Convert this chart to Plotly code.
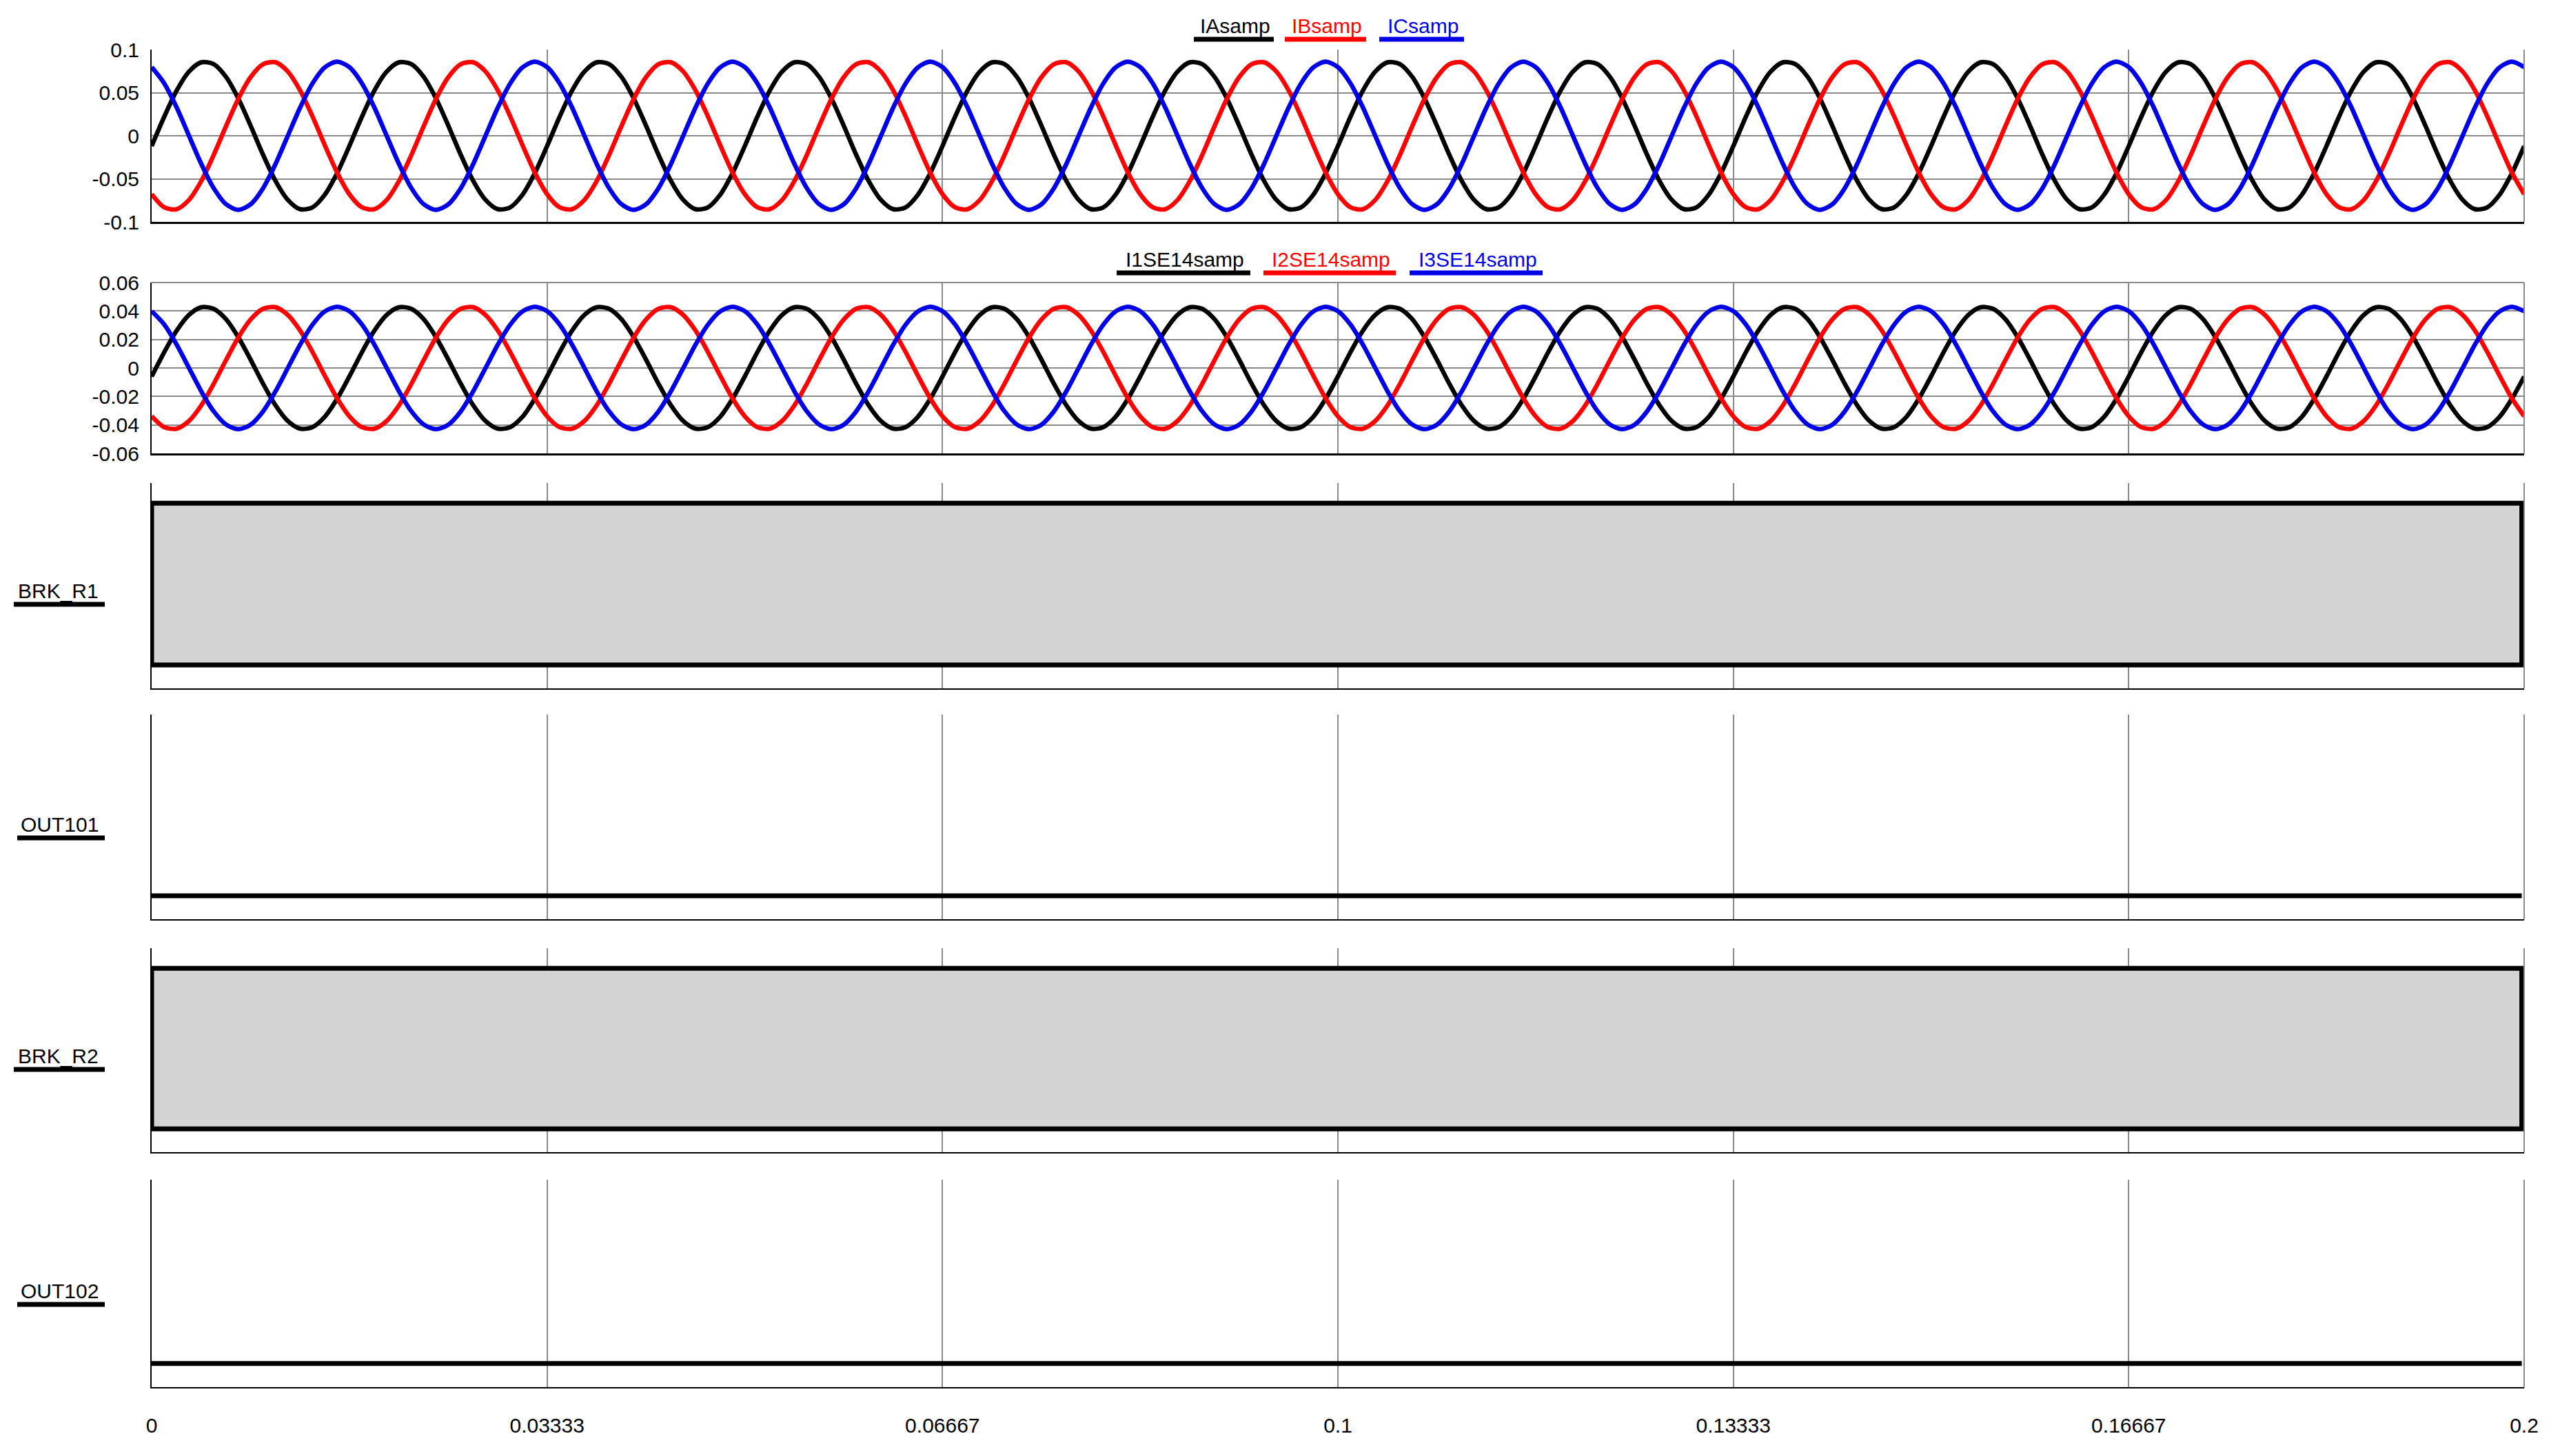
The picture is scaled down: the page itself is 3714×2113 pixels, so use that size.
import plotly.graph_objects as go

W, H = 3714, 2113

# --- data -------------------------------------------------------------------
# sampled at 16 samples/cycle (60 Hz); the record is steady state, every
# cycle reads the same, so one cycle per channel is listed (t = 0 .. 15/960 s)
SAMPLE_DT = 1 / 960
N_CYCLES = 12

ia_cycle = [-0.0120, 0.0215, 0.0518, 0.0741, 0.0852, 0.0833, 0.0687, 0.0437,
            0.0120, -0.0215, -0.0518, -0.0741, -0.0852, -0.0833, -0.0687, -0.0437]
ib_cycle = [-0.0678, -0.0829, -0.0854, -0.0749, -0.0530, -0.0230, 0.0105, 0.0424,
            0.0678, 0.0829, 0.0854, 0.0749, 0.0530, 0.0230, -0.0105, -0.0424]
ic_cycle = [0.0797, 0.0613, 0.0336, 0.0007, -0.0322, -0.0603, -0.0792, -0.0860,
            -0.0797, -0.0613, -0.0336, -0.0007, 0.0322, 0.0603, 0.0792, 0.0860]

i1_cycle = [-0.0060, 0.0108, 0.0259, 0.0371, 0.0426, 0.0416, 0.0344, 0.0218,
            0.0060, -0.0108, -0.0259, -0.0371, -0.0426, -0.0416, -0.0344, -0.0218]
i2_cycle = [-0.0339, -0.0415, -0.0427, -0.0374, -0.0265, -0.0115, 0.0052, 0.0212,
            0.0339, 0.0415, 0.0427, 0.0374, 0.0265, 0.0115, -0.0052, -0.0212]
i3_cycle = [0.0399, 0.0307, 0.0168, 0.0004, -0.0161, -0.0302, -0.0396, -0.0430,
            -0.0399, -0.0307, -0.0168, -0.0004, 0.0161, 0.0302, 0.0396, 0.0430]

# digital channels: change times and states
brk_r1_t = [0.0, 0.1998]
brk_r1_v = [1, 1]
out101_t = [0.0, 0.1998]
out101_v = [0, 0]
brk_r2_t = [0.0, 0.1998]
brk_r2_v = [1, 1]
out102_t = [0.0, 0.1998]
out102_v = [0, 0]

x_tickvals = [0, 0.0333333, 0.0666667, 0.1, 0.1333333, 0.1666667, 0.2]
x_ticktext = ["0", "0.03333", "0.06667", "0.1", "0.13333", "0.16667", "0.2"]

y1_tickvals = [0.1, 0.05, 0, -0.05, -0.1]
y1_ticktext = ["0.1", "0.05", "0", "-0.05", "-0.1"]
y2_tickvals = [0.06, 0.04, 0.02, 0, -0.02, -0.04, -0.06]
y2_ticktext = ["0.06", "0.04", "0.02", "0", "-0.02", "-0.04", "-0.06"]

legend1 = ["IAsamp", "IBsamp", "ICsamp"]
legend2 = ["I1SE14samp", "I2SE14samp", "I3SE14samp"]
digital_names = ["BRK_R1", "OUT101", "BRK_R2", "OUT102"]

# --- helpers ----------------------------------------------------------------
BLACK, RED, BLUE = "#000000", "#ff0000", "#0000e6"
GRID = "#8a8a8a"
FONT = "Liberation Sans, Arial, sans-serif"


def px_x(p):
    return p / W


def px_y(p):
    return 1 - p / H


def sfx(n):
    return "" if n == 1 else str(n)


def full_record(cycle):
    y = cycle * N_CYCLES + [cycle[0]]
    t = [k * SAMPLE_DT for k in range(len(y))]
    return t, y


def digital_path(t, v):
    # outline of the state box: up from zero, across, back down and closed
    return [t[0]] + t + [t[-1], t[0]], [0] + v + [0, 0]


X0, X1 = px_x(220), px_x(3662)
panel_top = [72, 410, 701, 1037, 1376, 1712]
panel_bot = [322, 658, 999, 1334, 1672, 2013]

fig = go.Figure()

wave_sets = [
    (1, [ia_cycle, ib_cycle, ic_cycle], legend1),
    (2, [i1_cycle, i2_cycle, i3_cycle], legend2),
]
for n, cycles, names in wave_sets:
    for cyc, color, name in zip(cycles, [BLACK, RED, BLUE], names):
        t, y = full_record(cyc)
        fig.add_trace(go.Scatter(
            x=t, y=y, mode="lines", name=name,
            line=dict(color=color, width=6.5, shape="spline", smoothing=0.8),
            xaxis="x" + sfx(n), yaxis="y" + sfx(n),
        ))

digital = [(brk_r1_t, brk_r1_v), (out101_t, out101_v),
           (brk_r2_t, brk_r2_v), (out102_t, out102_v)]
for k, ((t, v), name) in enumerate(zip(digital, digital_names)):
    n = k + 3
    xs, ys = digital_path(t, v)
    fig.add_trace(go.Scatter(
        x=xs, y=ys, mode="lines", name=name, line_shape="hv",
        fill="toself", fillcolor="#d3d3d3",
        line=dict(color=BLACK, width=7),
        xaxis="x" + sfx(n), yaxis="y" + sfx(n),
    ))

layout = {}
for n in range(1, 7):
    dom = [px_y(panel_bot[n - 1]), px_y(panel_top[n - 1])]
    layout["xaxis" + sfx(n)] = dict(
        domain=[X0, X1], range=[0, 0.2], anchor="y" + sfx(n), automargin=False,
        tickvals=x_tickvals, ticktext=x_ticktext,
        showticklabels=(n == 6), ticks="", ticklabelstandoff=28,
        showgrid=True, gridcolor=GRID, gridwidth=2, zeroline=False,
        showline=True, linecolor=BLACK, linewidth=3 if n <= 2 else 2,
        tickfont=dict(family=FONT, size=30, color=BLACK),
    )
    yax = dict(
        domain=dom, anchor="x" + sfx(n), zeroline=False, automargin=False,
        showline=True, linecolor=BLACK, linewidth=2,
        tickfont=dict(family=FONT, size=30, color=BLACK),
        ticks="", ticklabelstandoff=10,
    )
    if n == 1:
        yax.update(range=[-0.1, 0.1], tickvals=y1_tickvals, ticktext=y1_ticktext,
                   showgrid=True, gridcolor=GRID, gridwidth=2)
    elif n == 2:
        yax.update(range=[-0.06, 0.06], tickvals=y2_tickvals, ticktext=y2_ticktext,
                   showgrid=True, gridcolor=GRID, gridwidth=2)
    else:
        yax.update(range=[-0.145, 1.125], showticklabels=False, showgrid=False)
    layout["yaxis" + sfx(n)] = yax

shapes = []
annotations = []

# gray right border on every panel, gray top on panel 2
for n in range(1, 7):
    shapes.append(dict(type="line", xref=f"x{sfx(n)} domain", yref=f"y{sfx(n)} domain",
                       x0=1, x1=1, y0=0, y1=1, line=dict(color=GRID, width=2)))
shapes.append(dict(type="line", xref="x2 domain", yref="y2 domain",
                   x0=0, x1=1, y0=1, y1=1, line=dict(color=GRID, width=2)))

# legends: coloured text with a thick line under it
legend_rows = [
    (legend1, 37, 57, [(1732, 1848), (1864, 1982), (2001, 2124)]),
    (legend2, 376, 396, [(1620, 1814), (1833, 2025), (2045, 2238)]),
]
for names, ty, ly, spans in legend_rows:
    for name, color, (a, b) in zip(names, [BLACK, RED, BLUE], spans):
        annotations.append(dict(
            text=name, xref="paper", yref="paper", x=px_x((a + b) / 2 + 2), y=px_y(ty),
            xanchor="center", yanchor="middle", showarrow=False,
            font=dict(family=FONT, size=30, color=color),
        ))
        shapes.append(dict(type="line", xref="paper", yref="paper",
                           x0=px_x(a), x1=px_x(b), y0=px_y(ly), y1=px_y(ly),
                           line=dict(color=color, width=7)))

# digital channel names on the left, underlined
label_rows = [(857, 877, 20), (1196, 1216, 25), (1532, 1552, 20), (1873, 1893, 25)]
for name, (ty, ly, lx) in zip(digital_names, label_rows):
    annotations.append(dict(
        text=name, xref="paper", yref="paper", x=px_x(145), y=px_y(ty),
        xanchor="right", yanchor="middle", showarrow=False,
        font=dict(family=FONT, size=30, color=BLACK),
    ))
    shapes.append(dict(type="line", xref="paper", yref="paper",
                       x0=px_x(lx), x1=px_x(152), y0=px_y(ly), y1=px_y(ly),
                       line=dict(color=BLACK, width=7)))

fig.update_layout(
    template="none",
    width=W, height=H,
    margin=dict(l=0, r=0, t=0, b=0, pad=0, autoexpand=False),
    paper_bgcolor="white", plot_bgcolor="white",
    showlegend=False,
    shapes=shapes, annotations=annotations,
    **layout,
)

# the page body keeps its default 8px margin otherwise, which pushes the
# fixed-size figure past the window
fig.write_html(
    "out.html",
    config={"displayModeBar": False},
    post_script="document.body.style.margin='0';document.body.style.overflow='hidden';",
)
